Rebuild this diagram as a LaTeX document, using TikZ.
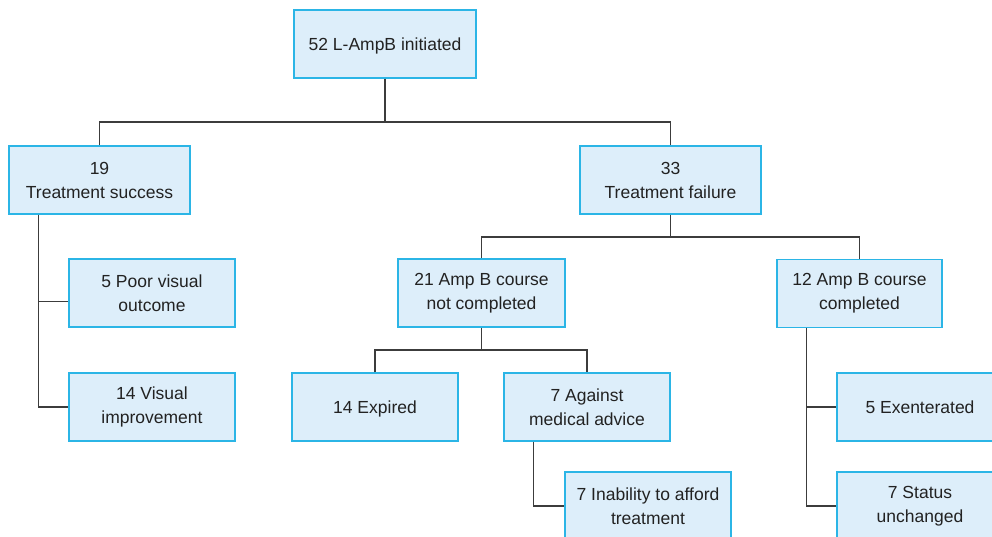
\documentclass[tikz,border=0pt]{standalone}
\usepackage{fontspec}
\setmainfont{Liberation Sans}
\usetikzlibrary{calc}
\definecolor{boxfill}{HTML}{DDEEFA}
\definecolor{boxline}{HTML}{2BB5E6}
\definecolor{conn}{HTML}{3C3C3C}
\definecolor{txt}{HTML}{222222}
\tikzset{
  fbox/.style={draw=boxline, fill=boxfill, line width=1.1pt, minimum width=166pt,
    minimum height=68pt, inner sep=0pt, align=center, text=txt,
    font=\fontsize{17.5}{24}\selectfont},
  wbox/.style={fbox, minimum width=181pt},
  onebox/.style={fbox, text depth=0pt, text height=12.5pt},
  link/.style={draw=conn, line width=1.4pt}
}
\begin{document}
\begin{tikzpicture}[x=1pt,y=-1pt]
\useasboundingbox (0,0) rectangle (992,536);
\clip (0,0) rectangle (992,536);
\fill[white] (0,0) rectangle (992,536);
% nodes
\node[onebox, minimum width=182pt] (root) at (385,44) {52 L-AmpB initiated};
\node[wbox] (succ) at (99.5,180) {19\\Treatment success};
\node[wbox] (fail) at (670.5,180) {33\\Treatment failure};
\node[fbox] (poor) at (152,293) {5 Poor visual\\outcome};
\node[fbox] (vis) at (152,407) {14 Visual\\improvement};
\node[fbox, minimum width=167pt] (notc) at (481.5,293) {21 Amp B course\\not completed};
\node[fbox, minimum width=165pt] (comp) at (859.5,293.5) {12 Amp B course\\completed};
\node[onebox] (exp) at (375,407) {14 Expired};
\node[fbox] (ama) at (587,407) {7 Against\\medical advice};
\node[fbox] (inab) at (648,506) {7 Inability to afford\\treatment};
\node[onebox] (exen) at (920,407) {5 Exenterated};
\node[fbox] (stat) at (920,506) {7 Status\\unchanged};
% junctions
\coordinate (j1) at (385,122);
\coordinate (j2) at (670.5,237);
\coordinate (j3) at (481.5,350);
\coordinate (s1) at ($(succ.south west)+(30,0)$);
\coordinate (a1) at ($(ama.south west)+(30,0)$);
\coordinate (c1) at ($(comp.south west)+(30,0)$);
% connectors
\draw[link] (root.south) -- (j1);
\draw[link] (succ.north) |- (j1) -| (fail.north);
\draw[link] (fail.south) -- (j2);
\draw[link] (notc.north) |- (j2) -| (comp.north);
\draw[link] (notc.south) -- (j3);
\draw[link] (exp.north) |- (j3) -| (ama.north);
\draw[link] (s1) |- (vis.west);
\draw[link] ($(s1 |- poor.west)+(0,8.5)$) -- ($(poor.west)+(0,8.5)$);
\draw[link] (a1) |- (inab.west);
\draw[link] (c1) |- (stat.west);
\draw[link] (c1 |- exen.west) -- (exen.west);
\end{tikzpicture}
\end{document}
